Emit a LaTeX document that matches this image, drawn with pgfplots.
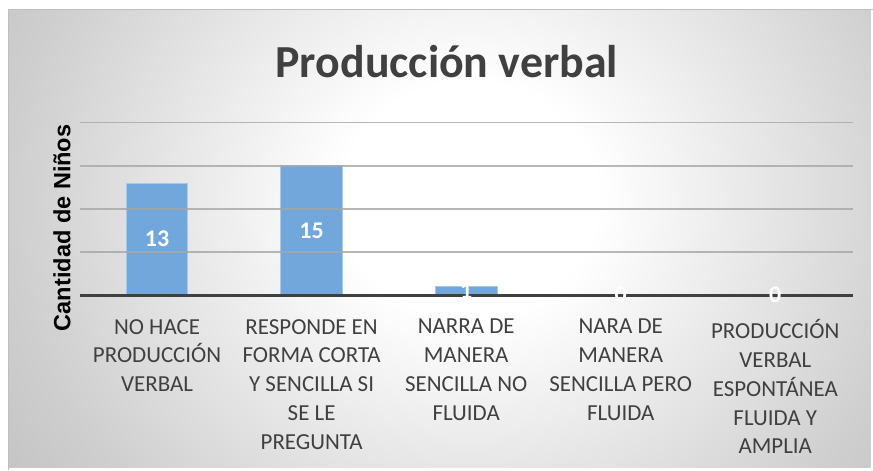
\documentclass[border=0pt]{standalone}
\usepackage{fontspec}
\usepackage{pgfplots}
\pgfplotsset{compat=1.18}
\setmainfont{Carlito}
\newfontfamily\arialfont{Liberation Sans}
\definecolor{txt}{HTML}{404040}
\definecolor{barblue}{HTML}{72A7DB}
\definecolor{baredge}{HTML}{A8C8EA}
\definecolor{gridc}{HTML}{A6A6A6}
\definecolor{framec}{HTML}{BFBFBF}
\pgfdeclareradialshading{bgshade}{\pgfpoint{0bp}{0bp}}{color(0bp)=(white); color(3.5bp)=(white); color(12.5bp)=(black!19); color(15bp)=(black!23); color(50bp)=(black!23)}
\begin{document}
\begin{tikzpicture}
\fill[white] (0pt,0pt) rectangle (436.5pt,234.5pt);
\begin{scope}
\clip (4.5pt,0pt) rectangle (436.5pt,229.5pt);
\shade[shading=bgshade] (235pt,134.5pt) ellipse [x radius=460pt, y radius=420pt];
\end{scope}
\draw[framec, line width=0.5pt] (4.5pt,-1pt) -- (4.5pt,229.5pt) -- (437.5pt,229.5pt);
\begin{axis}[
  at={(40pt,86.5pt)}, anchor=south west,
  scale only axis, width=387.5pt, height=86.5pt,
  xmin=-0.5, xmax=4.5, ymin=0, ymax=20,
  axis line style={draw=none},
  axis on top,
  ytick={5,10,15,20}, yticklabels={},
  ymajorgrids, grid style={gridc, line width=0.8pt, opacity=0.8},
  extra y ticks={0}, extra y tick labels={},
  extra y tick style={grid style={txt, line width=1.6pt, opacity=1}},
  major tick length=0pt,
  xtick={0,1,2,3,4},
  xticklabels={{NO HACE\\PRODUCCIÓN\\VERBAL},{RESPONDE EN\\FORMA CORTA\\Y SENCILLA SI\\SE LE\\PREGUNTA},{NARRA DE\\MANERA\\SENCILLA NO\\FLUIDA},{NARA DE\\MANERA\\SENCILLA PERO\\FLUIDA},{PRODUCCIÓN\\VERBAL\\ESPONTÁNEA\\FLUIDA Y\\AMPLIA}},
  xticklabel style={font=\fontsize{11.5}{14.5}\selectfont, text=txt, align=center, anchor=north, yshift=-8.5pt},
  title={Producción verbal},
  title style={font=\fontsize{23}{26}\selectfont\bfseries, text=txt, at={(axis description cs:0.475,1)}, anchor=center, yshift=24.5pt},
  ylabel={Cantidad de Niños},
  ylabel style={font=\arialfont\fontsize{11.8}{13}\selectfont\bfseries, text=black, at={(axis description cs:-0.023,0.39)}, anchor=center},
]
\addplot[ybar, bar width=31pt, fill=barblue, draw=baredge, line width=0.5pt] coordinates {(0,13) (1,15) (2,1) (3,0) (4,0)};
\addplot[only marks, mark=none, point meta=explicit symbolic, nodes near coords,
  every node near coord/.append style={anchor=center, text=white, font=\fontsize{12}{14}\selectfont\bfseries}]
  coordinates {(0,6.5)[13] (1,7.5)[15] (2,0.5)[1] (3,0)[0] (4,0)[0]};
\end{axis}
\end{tikzpicture}
\end{document}
